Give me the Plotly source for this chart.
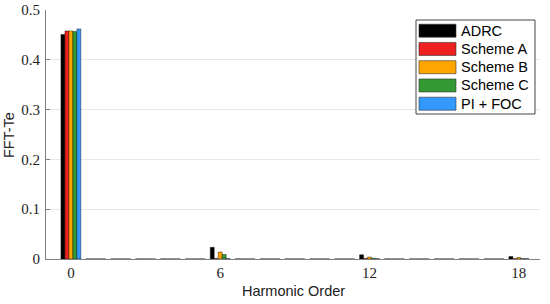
import plotly.graph_objects as go

harmonics = list(range(0, 19))
series_names = ["ADRC", "Scheme A", "Scheme B", "Scheme C", "PI + FOC"]
colors = ["#000000", "#EE2020", "#FFA500", "#339933", "#3399FF"]

# amplitude at each harmonic order 0..18 (near-zero floor between the main harmonics)
eps = 0.0002
adrc    = [0.451] + [eps]*5 + [0.0235] + [eps]*5 + [0.0085] + [eps]*5 + [0.005]
schemeA = [0.458] + [eps]*5 + [0.0012] + [eps]*5 + [0.0012] + [eps]*5 + [0.0008]
schemeB = [0.458] + [eps]*5 + [0.0140] + [eps]*5 + [0.0040] + [eps]*5 + [0.0030]
schemeC = [0.457] + [eps]*5 + [0.0090] + [eps]*5 + [0.0015] + [eps]*5 + [0.0008]
pifoc   = [0.462] + [eps]*5 + [0.0008] + [eps]*5 + [0.0008] + [eps]*5 + [0.0008]
values = [adrc, schemeA, schemeB, schemeC, pifoc]

x_ticks = [0, 6, 12, 18]
y_ticks = [0, 0.1, 0.2, 0.3, 0.4, 0.5]
y_ticklabels = ["0", "0.1", "0.2", "0.3", "0.4", "0.5"]

fig = go.Figure()
for name, col, vals in zip(series_names, colors, values):
    fig.add_trace(go.Bar(x=harmonics, y=vals, name=name,
                         marker=dict(color=col, line=dict(color="#000000", width=0.4)),
                         showlegend=False))

W, H = 550, 304
# plot area in page pixels
PX0, PX1, PY0, PY1 = 46, 540, 10, 259
L, R, T, B = PX0, W - PX1, PY0, H - PY1
pw, ph = PX1 - PX0, PY1 - PY0

def px(xp):
    return (xp - PX0) / pw

def py(yp):
    return (PY1 - yp) / ph

shapes = []
annotations = []
# manual legend
shapes.append(dict(type="rect", xref="paper", yref="paper",
                   x0=px(416), x1=px(535), y0=py(114), y1=py(20),
                   line=dict(color="#444444", width=1), fillcolor="white", layer="above"))
for i, (name, col) in enumerate(zip(series_names, colors)):
    cy = 30.7 + 18.25 * i
    shapes.append(dict(type="rect", xref="paper", yref="paper",
                       x0=px(419), x1=px(456), y0=py(cy + 6.5), y1=py(cy - 6.5),
                       line=dict(color="#333333", width=0.6), fillcolor=col, layer="above"))
    annotations.append(dict(text=name, xref="paper", yref="paper",
                            x=px(459), y=py(cy), xanchor="left", yanchor="middle",
                            showarrow=False, font=dict(family="Liberation Sans, Arial", size=14.5, color="#000000")))

# axis titles
annotations.append(dict(text="Harmonic Order", xref="paper", yref="paper",
                        x=px(293), y=py(291), xanchor="center", yanchor="middle", showarrow=False,
                        font=dict(family="Liberation Sans, Arial", size=14.5, color="#222222")))
annotations.append(dict(text="FFT-Te", xref="paper", yref="paper", textangle=-90,
                        x=px(9), y=py(135), xanchor="center", yanchor="middle", showarrow=False,
                        font=dict(family="Liberation Sans, Arial", size=14.5, color="#222222")))

fig.update_layout(
    width=W, height=H,
    margin=dict(l=L, r=R, t=T, b=B, pad=0, autoexpand=False),
    paper_bgcolor="white", plot_bgcolor="white",
    barmode="group", bargap=0.2, bargroupgap=0,
    shapes=shapes, annotations=annotations,
    xaxis=dict(range=[-1, 18.85], tickvals=x_ticks, ticktext=[str(v) for v in x_ticks],
               showgrid=False, zeroline=False, showline=True, linecolor="#808080", linewidth=1,
               ticks="", automargin=False, ticklabelstandoff=0,
               tickfont=dict(family="Liberation Serif, Times New Roman", size=15, color="#222222")),
    yaxis=dict(range=[0, 0.5], tickvals=y_ticks, ticktext=y_ticklabels,
               showgrid=True, gridcolor="#E6E6E6", gridwidth=1, zeroline=False,
               showline=True, linecolor="#808080", linewidth=1,
               ticks="inside", ticklen=4, tickcolor="#808080", automargin=False,
               ticklabelstandoff=2,
               tickfont=dict(family="Liberation Serif, Times New Roman", size=15, color="#222222")),
)

fig.write_html("out.html", config={"displayModeBar": False},
               post_script="document.body.style.margin='0';document.body.style.padding='0';")
